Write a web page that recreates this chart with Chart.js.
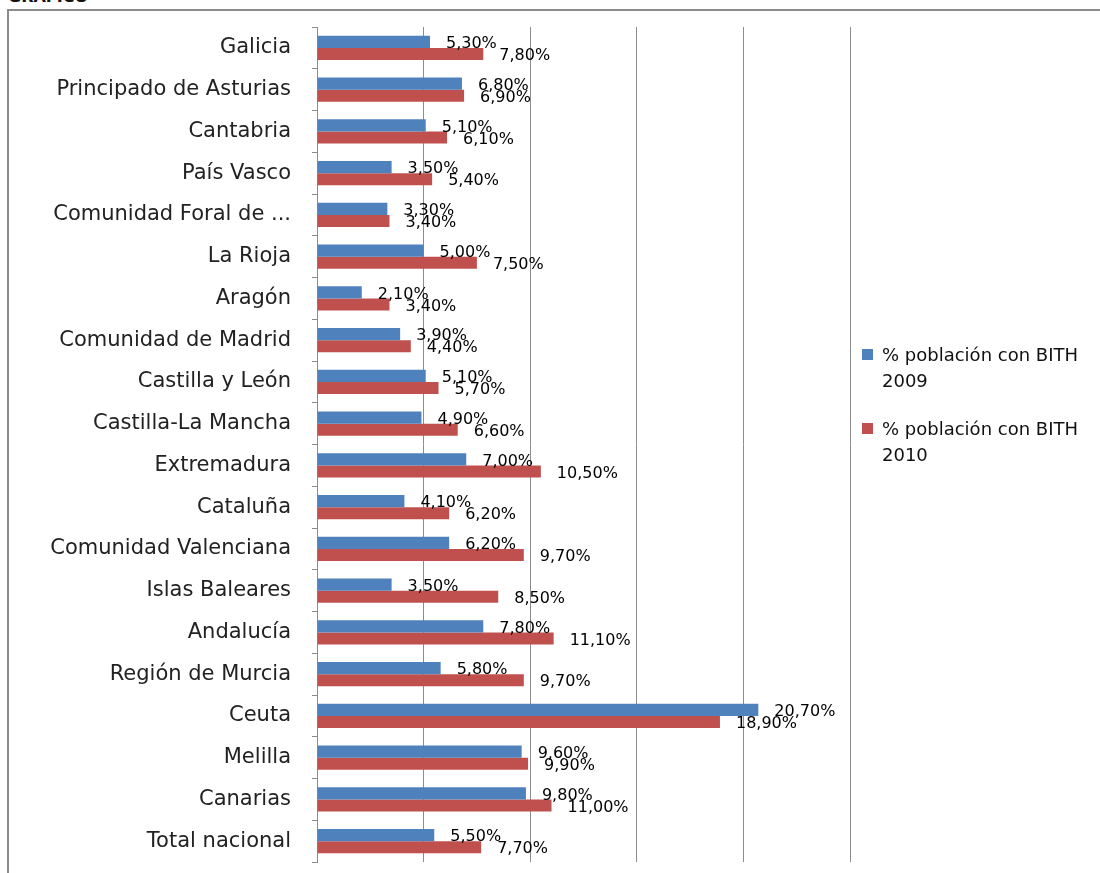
<!DOCTYPE html>
<html>
<head>
<meta charset="utf-8">
<script src="https://cdn.jsdelivr.net/npm/chart.js@4.4.1/dist/chart.umd.min.js"></script>
<style>
  html, body { margin: 0; padding: 0; background: #fff; }
  body { width: 1100px; height: 873px; position: relative; overflow: hidden; font-family: "DejaVu Sans", sans-serif; }
  .caption { position: absolute; left: 8px; top: -13px; font: bold 16px "DejaVu Sans", sans-serif; color: #111; }
  .frame { position: absolute; left: 7px; top: 9px; width: 1200px; height: 1000px; border: 2px solid #8a8a8a; box-sizing: border-box; }
  canvas { position: absolute; left: 0; top: 0; }
  .legend { position: absolute; left: 862px; top: 342px; color: #111; font-size: 18px; line-height: 26px; }
  .legend .item { position: relative; padding-left: 20px; margin-bottom: 22px; }
  .legend .box { position: absolute; left: 0; top: 7px; width: 11px; height: 11px; }
</style>
</head>
<body>
<div class="caption">GRÁFICO</div>
<div class="frame"></div>
<canvas id="chart" width="1100" height="873"></canvas>
<div class="legend" id="legend"></div>
<script>
const regions = [
  "Galicia", "Principado de Asturias", "Cantabria", "País Vasco",
  "Comunidad Foral de ...", "La Rioja", "Aragón", "Comunidad de Madrid",
  "Castilla y León", "Castilla-La Mancha", "Extremadura", "Cataluña",
  "Comunidad Valenciana", "Islas Baleares", "Andalucía", "Región de Murcia",
  "Ceuta", "Melilla", "Canarias", "Total nacional"
]
const bith2009 = [5.3, 6.8, 5.1, 3.5, 3.3, 5.0, 2.1, 3.9, 5.1, 4.9, 7.0, 4.1, 6.2, 3.5, 7.8, 5.8, 20.7, 9.6, 9.8, 5.5]
const bith2010 = [7.8, 6.9, 6.1, 5.4, 3.4, 7.5, 3.4, 4.4, 5.7, 6.6, 10.5, 6.2, 9.7, 8.5, 11.1, 9.7, 18.9, 9.9, 11.0, 7.7]
const seriesNames = [["% población con BITH", "2009"], ["% población con BITH", "2010"]]
const colors = ["#4f81bd", "#c0504d"]

const fmt = v => v.toFixed(2).replace(".", ",") + "%"

// value labels just past the end of each bar
const valueLabels = {
  id: "valueLabels",
  afterDatasetsDraw(chart) {
    const { ctx } = chart
    ctx.save()
    ctx.font = "16px 'DejaVu Sans', sans-serif"
    ctx.fillStyle = "#000"
    ctx.textAlign = "left"
    ctx.textBaseline = "middle"
    chart.data.datasets.forEach((ds, i) => {
      chart.getDatasetMeta(i).data.forEach((bar, j) => {
        ctx.fillText(fmt(ds.data[j]), bar.x + 16, bar.y + 2)
      })
    })
    ctx.restore()
  }
}

new Chart(document.getElementById("chart"), {
  type: "bar",
  data: {
    labels: regions,
    datasets: [
      { label: seriesNames[0].join(" "), data: bith2009, backgroundColor: colors[0] },
      { label: seriesNames[1].join(" "), data: bith2010, backgroundColor: colors[1] }
    ]
  },
  options: {
    indexAxis: "y",
    responsive: false,
    animation: false,
    devicePixelRatio: 1,
    categoryPercentage: 0.575,
    barPercentage: 1,
    layout: { padding: { left: 0, right: 250, top: 27, bottom: 11 } },
    plugins: { legend: { display: false }, tooltip: { enabled: false } },
    scales: {
      x: {
        min: 0,
        max: 25,
        afterFit: axis => {
          axis.height = 0
          axis.paddingLeft = 0
          axis.paddingRight = 0
        },
        ticks: { display: false, stepSize: 5 },
        grid: { color: "#8c8c8c", drawTicks: false, lineWidth: 1 },
        border: { display: false }
      },
      y: {
        afterFit: axis => {
          axis.width = 317
          axis.paddingTop = 0
          axis.paddingBottom = 0
        },
        ticks: { color: "#222", padding: 21, font: { family: "DejaVu Sans", size: 21 } },
        grid: { drawOnChartArea: false, offset: true, tickLength: 5, color: "#8c8c8c" },
        border: { color: "#8c8c8c" }
      }
    }
  },
  plugins: [valueLabels]
})

const legend = document.getElementById("legend")
seriesNames.forEach((lines, i) => {
  const item = document.createElement("div")
  item.className = "item"
  item.innerHTML = `<span class="box" style="background:${colors[i]}"></span>${lines[0]}<br>${lines[1]}`
  legend.appendChild(item)
})
</script>
</body>
</html>
